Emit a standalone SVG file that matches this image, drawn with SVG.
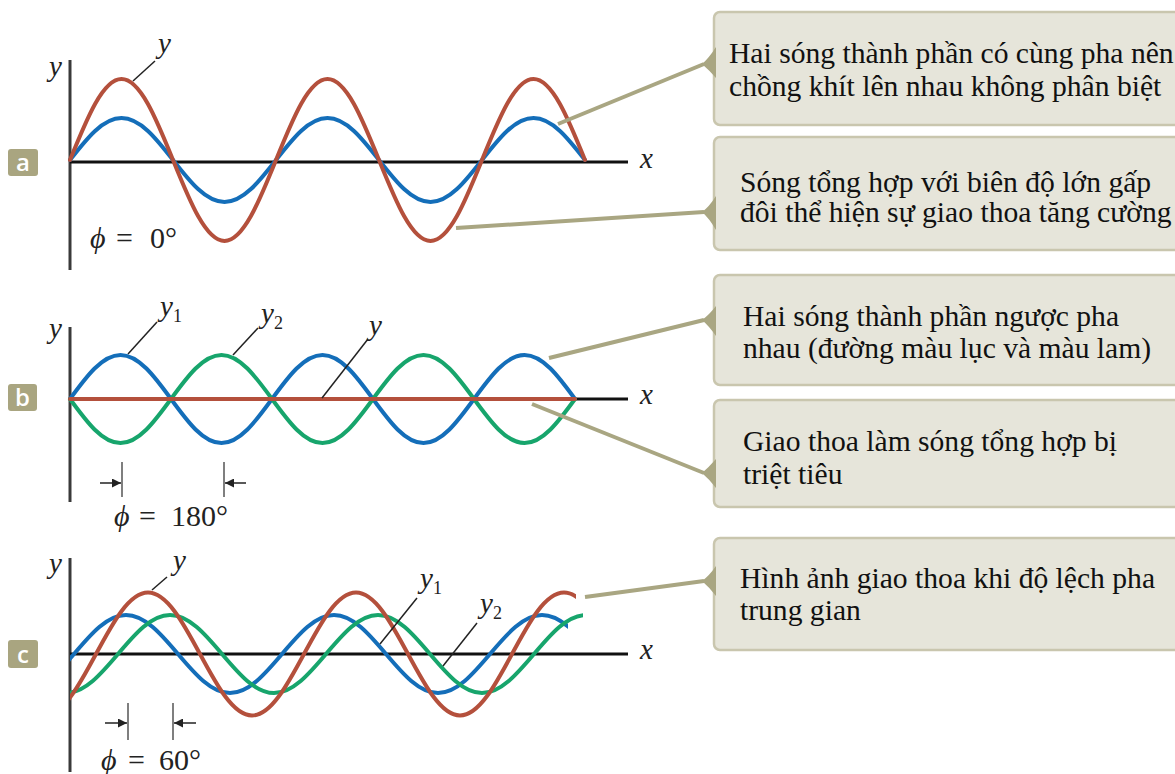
<svg xmlns="http://www.w3.org/2000/svg" width="1175" height="774" viewBox="0 0 1175 774">
<style>
.bg{fill:#ffffff}
.ax{stroke:#111;stroke-width:3;fill:none}
.ay{stroke:#3a3a3a;stroke-width:3;fill:none}
.red{stroke:#b4503c;stroke-width:4;fill:none;stroke-linecap:round}
.blue{stroke:#146eb9;stroke-width:4;fill:none;stroke-linecap:round}
.green{stroke:#17a56c;stroke-width:4;fill:none;stroke-linecap:round}
.lead{stroke:#222;stroke-width:1.5;fill:none}
.tick{stroke:#555;stroke-width:1.5;fill:none}
.arr{stroke:#222;stroke-width:1.5;fill:none;marker-end:url(#ah)}
.math{font-family:"Liberation Serif",serif;font-style:italic;font-size:29px;fill:#222}
.sub{font-family:"Liberation Serif",serif;font-size:18px;fill:#222;font-style:normal}
.eq{font-family:"Liberation Serif",serif;font-size:30px;fill:#222}
.badge{fill:#a9a580}
.bl{font-family:"Open Sans","Liberation Sans",sans-serif;font-weight:600;font-size:24px;fill:#fff;text-anchor:middle}
.box{fill:#e6e5da;stroke:#c9c6ae;stroke-width:2.5}
.notch{fill:#a9a682}
.bt{font-family:"Liberation Serif",serif;font-size:29.6px;fill:#111}
.con{stroke:#a9a682;stroke-width:4;fill:none}
</style>
<defs>
<marker id="ah" viewBox="0 0 10 10" refX="10" refY="5" markerWidth="12" markerHeight="9" markerUnits="userSpaceOnUse" orient="auto">
<path d="M0,0 L10,5 L0,10 z" fill="#222"/>
</marker>
<clipPath id="cb"><rect x="70" y="540" width="498" height="200"/></clipPath>
<clipPath id="cg"><rect x="70" y="540" width="513" height="200"/></clipPath>
<clipPath id="cr"><rect x="70" y="540" width="506" height="200"/></clipPath>
</defs>
<rect class="bg" x="0" y="0" width="1175" height="774"/>

<g id="panel-a">
<rect class="badge" x="8" y="149" width="30" height="27" rx="3"/>
<text class="bl" x="23" y="171">a</text>
<line class="ay" x1="70" y1="60" x2="70" y2="270"/>
<line class="ax" x1="70" y1="162" x2="628" y2="162"/>
<path class="blue" d="M70,160 c16.79,-21.52 32.86,-42 51.5,-42 s34.71,20.48 51.5,42 s32.86,42 51.5,42 s34.71,-20.48 51.5,-42 s32.86,-42 51.5,-42 s34.71,20.48 51.5,42 s32.86,42 51.5,42 s34.71,-20.48 51.5,-42 s32.86,-42 51.5,-42 s34.71,20.48 51.5,42"/>
<path class="red" d="M70,160 c16.79,-41.5 32.86,-81 51.5,-81 s34.71,39.5 51.5,81 s32.86,81 51.5,81 s34.71,-39.5 51.5,-81 s32.86,-81 51.5,-81 s34.71,39.5 51.5,81 s32.86,81 51.5,81 s34.71,-39.5 51.5,-81 s32.86,-81 51.5,-81 s34.71,39.5 51.5,81"/>
<text class="math" x="49" y="76">y</text>
<text class="math" x="640" y="168">x</text>
<line class="lead" x1="133" y1="81" x2="155" y2="61"/>
<text class="math" x="158" y="53">y</text>
<text class="eq" x="90" y="248"><tspan font-style="italic">ϕ</tspan></text>
<text class="eq" x="116" y="248">=</text>
<text class="eq" x="150" y="248">0°</text>
</g>

<g id="panel-b">
<rect class="badge" x="8" y="384" width="29" height="27" rx="3"/>
<text class="bl" x="22.5" y="406">b</text>
<line class="ay" x1="70" y1="327" x2="70" y2="502"/>
<line class="ax" x1="70" y1="399" x2="628" y2="399"/>
<path class="blue" d="M70,399 c16.47,-22.54 32.22,-44 50.5,-44 s34.03,21.46 50.5,44 s32.22,44 50.5,44 s34.03,-21.46 50.5,-44 s32.22,-44 50.5,-44 s34.03,21.46 50.5,44 s32.22,44 50.5,44 s34.03,-21.46 50.5,-44 s32.22,-44 50.5,-44 s34.03,21.46 50.5,44"/>
<path class="green" d="M70,399 c16.47,22.54 32.22,44 50.5,44 s34.03,-21.46 50.5,-44 s32.22,-44 50.5,-44 s34.03,21.46 50.5,44 s32.22,44 50.5,44 s34.03,-21.46 50.5,-44 s32.22,-44 50.5,-44 s34.03,21.46 50.5,44 s32.22,44 50.5,44 s34.03,-21.46 50.5,-44"/>
<line class="red" x1="70" y1="399" x2="575" y2="399"/>
<text class="math" x="49" y="338">y</text>
<text class="math" x="640" y="404">x</text>
<line class="lead" x1="128" y1="354" x2="157" y2="322"/>
<text class="math" x="160" y="316">y<tspan class="sub" dy="6">1</tspan></text>
<line class="lead" x1="233" y1="355" x2="258" y2="328"/>
<text class="math" x="261" y="323">y<tspan class="sub" dy="6">2</tspan></text>
<line class="lead" x1="322" y1="398" x2="368" y2="339"/>
<text class="math" x="369" y="335">y</text>
<line class="tick" x1="122" y1="462" x2="122" y2="497"/>
<line class="tick" x1="224" y1="462" x2="224" y2="497"/>
<line class="arr" x1="100" y1="483" x2="121" y2="483"/>
<line class="arr" x1="246" y1="483" x2="225" y2="483"/>
<text class="eq" x="114" y="526"><tspan font-style="italic">ϕ</tspan></text>
<text class="eq" x="139" y="526">=</text>
<text class="eq" x="171" y="526">180°</text>
</g>

<g id="panel-c">
<rect class="badge" x="8" y="640" width="30" height="28" rx="3"/>
<text class="bl" x="23" y="663">c</text>
<line class="ay" x1="70" y1="558" x2="70" y2="772"/>
<line class="ax" x1="70" y1="654" x2="628" y2="654"/>
<path class="blue" clip-path="url(#cb)" d="M22,693 c18.82,0 35.04,-19.02 52,-39 s33.18,-39 52,-39 s35.04,19.02 52,39 s33.18,39 52,39 s35.04,-19.02 52,-39 s33.18,-39 52,-39 s35.04,19.02 52,39 s33.18,39 52,39 s35.04,-19.02 52,-39 s33.18,-39 52,-39 s35.04,19.02 52,39"/>
<path class="green" clip-path="url(#cg)" d="M66,693 c18.82,0 35.04,-19.02 52,-39 s33.18,-39 52,-39 s35.04,19.02 52,39 s33.18,39 52,39 s35.04,-19.02 52,-39 s33.18,-39 52,-39 s35.04,19.02 52,39 s33.18,39 52,39 s35.04,-19.02 52,-39 s33.18,-39 52,-39"/>
<path class="red" clip-path="url(#cr)" d="M44,715.5 c18.82,0 35.04,-29.99 52,-61.5 s33.18,-61.5 52,-61.5 s35.04,29.99 52,61.5 s33.18,61.5 52,61.5 s35.04,-29.99 52,-61.5 s33.18,-61.5 52,-61.5 s35.04,29.99 52,61.5 s33.18,61.5 52,61.5 s35.04,-29.99 52,-61.5 s33.18,-61.5 52,-61.5 s35.04,29.99 52,61.5"/>
<text class="math" x="49" y="573">y</text>
<text class="math" x="640" y="659">x</text>
<line class="lead" x1="152" y1="590" x2="167" y2="577"/>
<text class="math" x="173" y="570">y</text>
<line class="lead" x1="380" y1="644" x2="417" y2="598"/>
<text class="math" x="420" y="588">y<tspan class="sub" dy="6">1</tspan></text>
<line class="lead" x1="443" y1="666" x2="477" y2="623"/>
<text class="math" x="480" y="613">y<tspan class="sub" dy="6">2</tspan></text>
<line class="tick" x1="128" y1="703" x2="128" y2="740"/>
<line class="tick" x1="173" y1="703" x2="173" y2="740"/>
<line class="arr" x1="105" y1="723" x2="127" y2="723"/>
<line class="arr" x1="196" y1="723" x2="174" y2="723"/>
<text class="eq" x="101" y="770"><tspan font-style="italic">ϕ</tspan></text>
<text class="eq" x="128" y="770">=</text>
<text class="eq" x="159" y="770">60°</text>
</g>

<g id="connectors">
<line class="con" x1="558" y1="124" x2="704" y2="64"/>
<line class="con" x1="456" y1="228" x2="704" y2="212"/>
<line class="con" x1="549" y1="358" x2="704" y2="320"/>
<line class="con" x1="532" y1="404" x2="704" y2="473"/>
<line class="con" x1="585" y1="597" x2="704" y2="581"/>
</g>

<g id="box1">
<rect class="box" x="714" y="12" width="480" height="113" rx="6"/>
<path class="notch" d="M716,47 Q709,58 702,64 Q709,70 716,78 Z"/>
<text class="bt" x="729" y="63">Hai sóng thành phần có cùng pha nên</text>
<text class="bt" x="729" y="96">chồng khít lên nhau không phân biệt</text>
</g>
<g id="box2">
<rect class="box" x="714" y="137" width="480" height="113" rx="6"/>
<path class="notch" d="M716,196 Q709,207 702,212 Q709,218 716,230 Z"/>
<text class="bt" x="740" y="192">Sóng tổng hợp với biên độ lớn gấp</text>
<text class="bt" x="740" y="222">đôi thể hiện sự giao thoa tăng cường</text>
</g>
<g id="box3">
<rect class="box" x="714" y="275" width="480" height="110" rx="6"/>
<path class="notch" d="M716,306 Q709,315 702,320 Q709,326 716,336 Z"/>
<text class="bt" x="743" y="326">Hai sóng thành phần ngược pha</text>
<text class="bt" x="743" y="358">nhau (đường màu lục và màu lam)</text>
</g>
<g id="box4">
<rect class="box" x="714" y="400" width="480" height="107" rx="6"/>
<path class="notch" d="M716,459 Q709,467 702,473 Q709,479 716,488 Z"/>
<text class="bt" x="743" y="451">Giao thoa làm sóng tổng hợp bị</text>
<text class="bt" x="743" y="484">triệt tiêu</text>
</g>
<g id="box5">
<rect class="box" x="714" y="538" width="480" height="112" rx="6"/>
<path class="notch" d="M716,566 Q709,576 702,581 Q709,587 716,596 Z"/>
<text class="bt" x="740" y="588">Hình ảnh giao thoa khi độ lệch pha</text>
<text class="bt" x="740" y="620">trung gian</text>
</g>
</svg>
